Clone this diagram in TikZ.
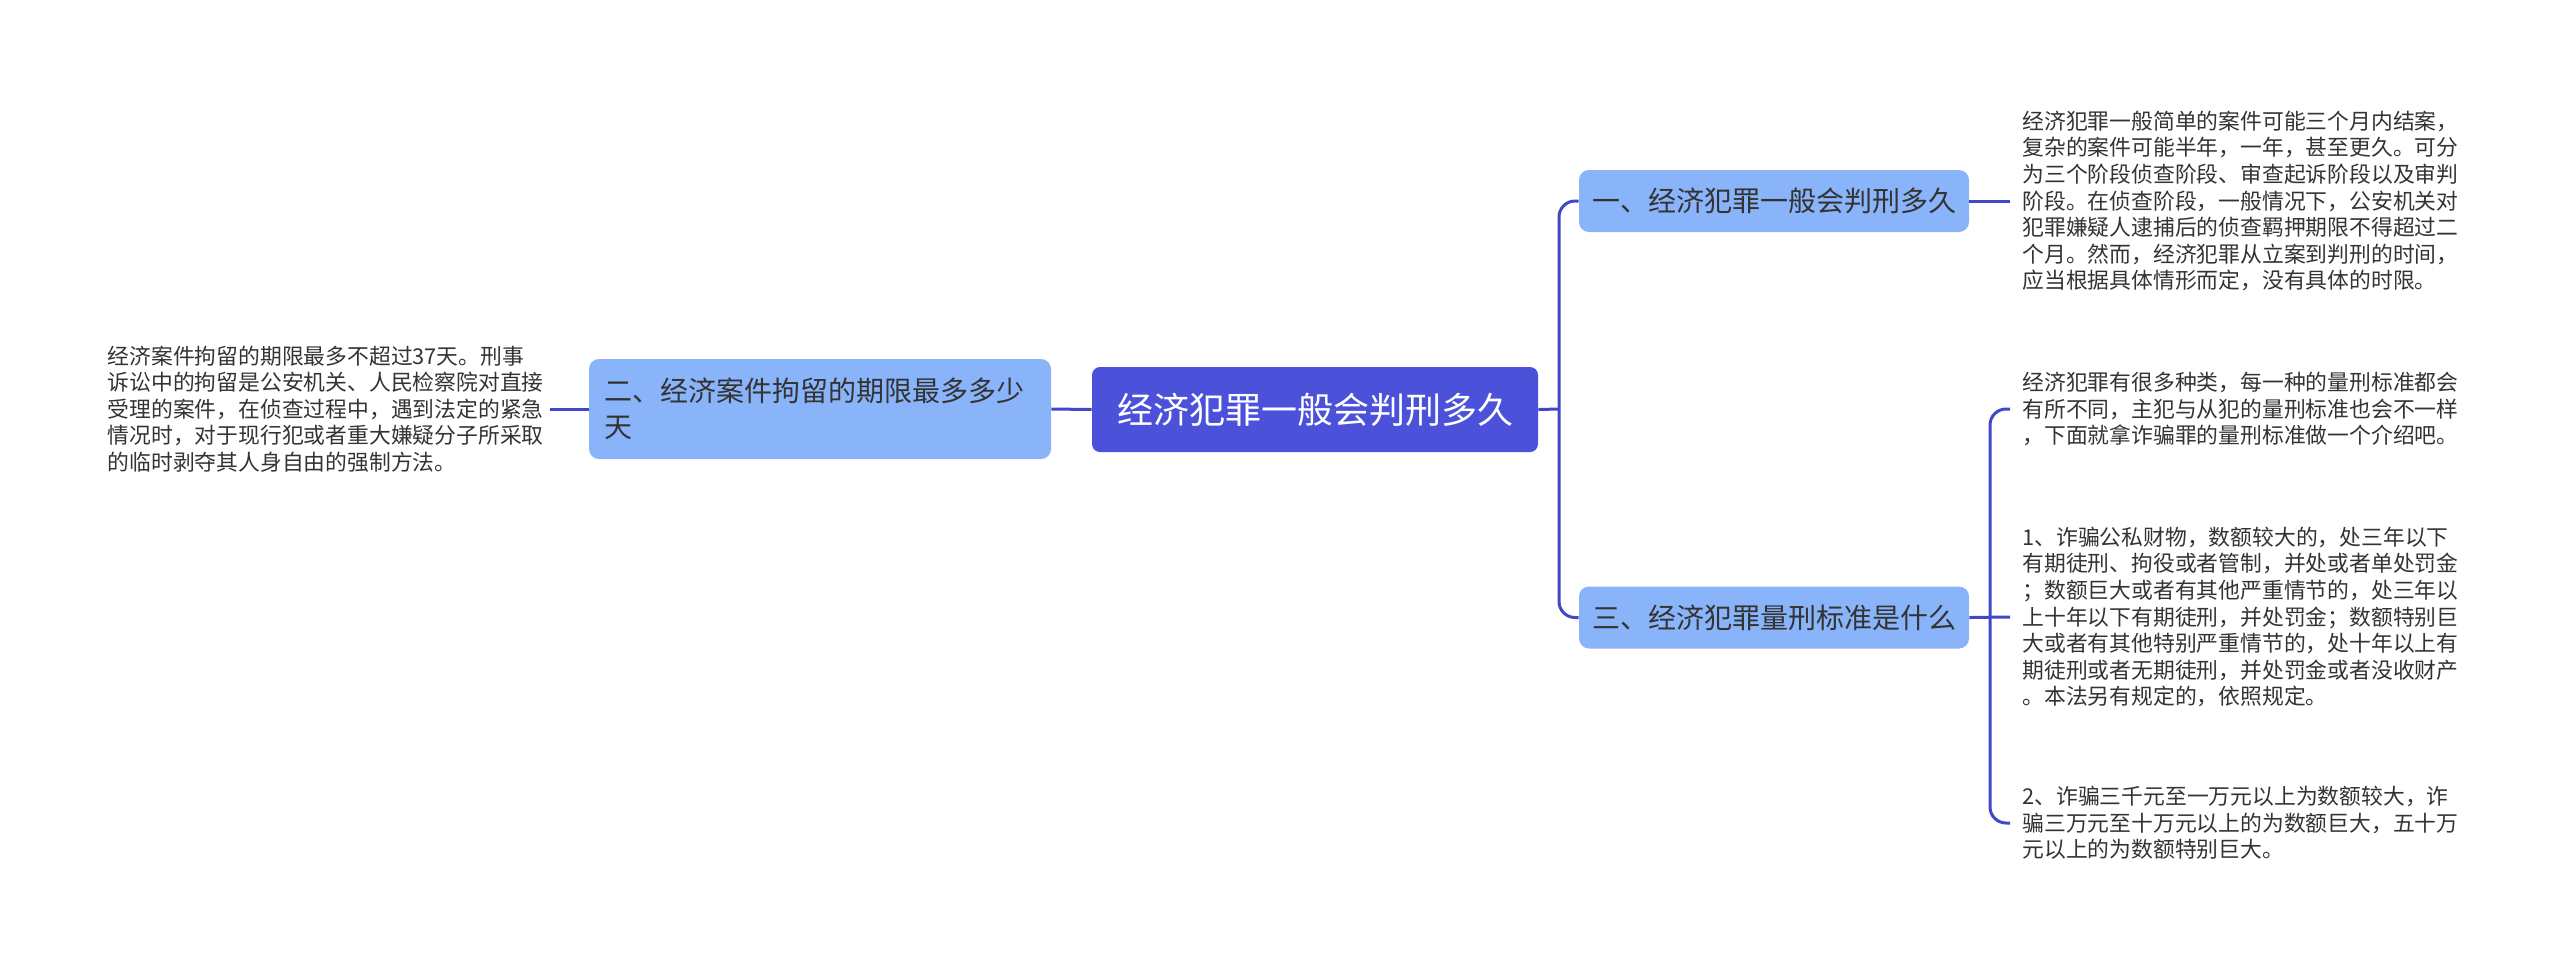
\documentclass[tikz,border=0pt]{standalone}
\usepackage{fontspec}
\newfontfamily\cjk{Noto Sans CJK SC}
\definecolor{rootblue}{HTML}{4B52D9}
\definecolor{branchblue}{HTML}{8AB4FA}
\definecolor{linkblue}{HTML}{4048C8}
\definecolor{textgray}{HTML}{333333}
\begin{document}
\begin{tikzpicture}[x=0.5pt,y=-0.5pt,
  rootbox/.style={draw=none,fill=rootblue,rounded corners=4pt,minimum width=223pt,minimum height=42.5pt,text=white,font=\cjk\fontsize{18}{22}\selectfont},
  branchbox/.style={draw=none,fill=branchblue,rounded corners=5pt,minimum width=195pt,minimum height=31pt,text=textgray,font=\cjk\fontsize{14}{18}\selectfont},
  leaftext/.style={align=left,inner xsep=6pt,inner ysep=0pt,text=textgray,font=\cjk\fontsize{10.9}{13.3}\selectfont},
  link/.style={draw=linkblue,line width=1.5pt}]
\useasboundingbox (0,0) rectangle (2560,971);

% centre and branches
\node[rootbox] (root) at (1315,409.5) {经济犯罪一般会判刑多久};
\node[branchbox] (b1) at (1774,201) {一、经济犯罪一般会判刑多久};
\node[branchbox,minimum width=231pt,minimum height=50pt,align=left,text width=216pt] (b2) at (820,409) {二、经济案件拘留的期限最多多少\\天};
\node[branchbox] (b3) at (1774,617.5) {三、经济犯罪量刑标准是什么};

% leaves
\node[leaftext,anchor=west] (l1) at (2010,201) {经济犯罪一般简单的案件可能三个月内结案，\\复杂的案件可能半年，一年，甚至更久。可分\\为三个阶段侦查阶段、审查起诉阶段以及审判\\阶段。在侦查阶段，一般情况下，公安机关对\\犯罪嫌疑人逮捕后的侦查羁押期限不得超过二\\个月。然而，经济犯罪从立案到判刑的时间，\\应当根据具体情形而定，没有具体的时限。};
\node[leaftext,anchor=east,inner xsep=3pt] (l2) at (550,409) {经济案件拘留的期限最多不超过37天。刑事\\诉讼中的拘留是公安机关、人民检察院对直接\\受理的案件，在侦查过程中，遇到法定的紧急\\情况时，对于现行犯或者重大嫌疑分子所采取\\的临时剥夺其人身自由的强制方法。};
\node[leaftext,anchor=west] (l3a) at (2010,409) {经济犯罪有很多种类，每一种的量刑标准都会\\有所不同，主犯与从犯的量刑标准也会不一样\\，下面就拿诈骗罪的量刑标准做一个介绍吧。};
\node[leaftext,anchor=west] (l3b) at (2010,617) {1、诈骗公私财物，数额较大的，处三年以下\\有期徒刑、拘役或者管制，并处或者单处罚金\\；数额巨大或者有其他严重情节的，处三年以\\上十年以下有期徒刑，并处罚金；数额特别巨\\大或者有其他特别严重情节的，处十年以上有\\期徒刑或者无期徒刑，并处罚金或者没收财产\\。本法另有规定的，依照规定。};
\node[leaftext,anchor=west] (l3c) at (2010,823) {2、诈骗三千元至一万元以上为数额较大，诈\\骗三万元至十万元以上的为数额巨大，五十万\\元以上的为数额特别巨大。};

% connectors
\coordinate (j1) at (1559,409);
\coordinate (j3) at (1990,617);
\draw[link] (root.east) -- (j1);
\draw[link,rounded corners=8pt] (b1.west) -| (j1) |- (b3.west);
\draw[link] (root.west) -- (b2.east);
\draw[link] (b2.west) -- (l2.east);
\draw[link] (b1.east) -- (l1.west);
\draw[link] (b3.east) -- (l3b.west);
\draw[link,rounded corners=8pt] (l3a.west) -| (j3) |- (l3c.west);
\end{tikzpicture}
\end{document}
